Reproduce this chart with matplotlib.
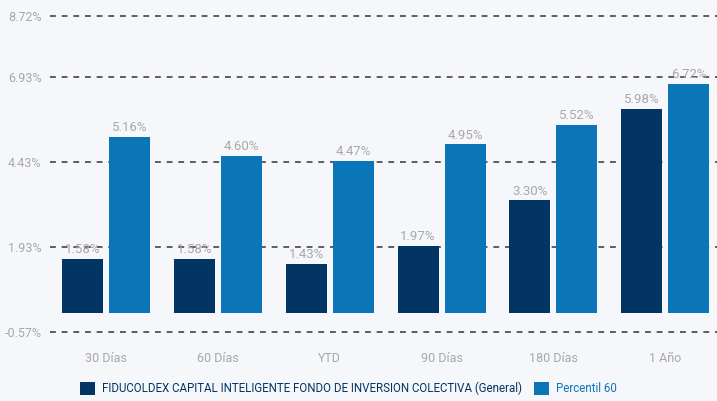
import matplotlib.pyplot as plt
import numpy as np

plt.rcParams["font.family"] = ["Roboto", "DejaVu Sans"]

# --- Datos ---
periodos = ["30 Días", "60 Días", "YTD", "90 Días", "180 Días", "1 Año"]
fondo = [1.58, 1.58, 1.43, 1.97, 3.30, 5.98]
percentil_60 = [5.16, 4.60, 4.47, 4.95, 5.52, 6.72]
yticks = [-0.57, 1.93, 4.43, 6.93, 8.72]
nombre_fondo = "FIDUCOLDEX CAPITAL INTELIGENTE FONDO DE INVERSION COLECTIVA (General)"
nombre_pct = "Percentil 60"

bg = "#F5F7FA"
c_fondo = "#033564"
c_pct = "#0A76B8"
gris = "#A8A8A8"

fig = plt.figure(figsize=(7.17, 4.01), dpi=100, facecolor=bg)
ax = fig.add_axes([0.0697, 0.168, 0.930, 0.796], facecolor=bg)

x = np.arange(len(periodos))
w = 0.366
off = 0.21
b1 = ax.bar(x - off, fondo, width=w, color=c_fondo, label=nombre_fondo, zorder=3)
b2 = ax.bar(x + off, percentil_60, width=w, color=c_pct, label=nombre_pct, zorder=3)

for bars, vals in [(b1, fondo), (b2, percentil_60)]:
    for rect, v in zip(bars, vals):
        ax.annotate(f"{v:.2f}%", (rect.get_x() + rect.get_width() / 2, v),
                    xytext=(0, 2), textcoords="offset points",
                    ha="center", va="bottom", fontsize=9.5, color=gris, zorder=5)

for yv in yticks:
    ax.axhline(yv, color="#444444", lw=1.2, ls=(0, (3.5, 3.5)), zorder=1)

ax.set_xlim(-0.5, 5.46)
ax.set_ylim(-0.62, 8.77)
ax.set_yticks(yticks)
ax.set_yticklabels([f"{v:.2f}%" for v in yticks])
ax.set_xticks(x)
ax.set_xticklabels(periodos)
ax.tick_params(axis="y", length=0, pad=6, labelsize=9, labelcolor=gris)
ax.tick_params(axis="x", length=0, pad=13, labelsize=9, labelcolor=gris)
for s in ax.spines.values():
    s.set_visible(False)

leg = fig.legend(loc="lower center", bbox_to_anchor=(0.486, -0.012), ncol=2,
                 frameon=False, fontsize=8.3, handlelength=1.35, handleheight=1.3,
                 handletextpad=0.6, columnspacing=1.0,
                 labelcolor=[c_fondo, c_pct])

fig.savefig("out.png", dpi=100, facecolor=bg)
